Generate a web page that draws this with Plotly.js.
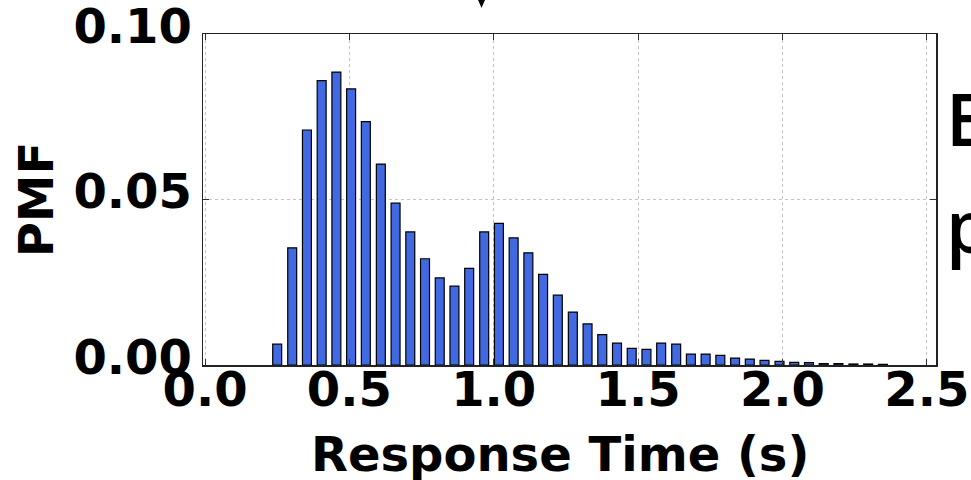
<!DOCTYPE html>
<html>
<head>
<meta charset="utf-8">
<script src="https://cdn.plot.ly/plotly-3.0.1.min.js"></script>
<style>
  html, body { margin: 0; padding: 0; background: #ffffff; overflow: hidden; }
  #chart { width: 971px; height: 480px; }
</style>
</head>
<body>
<div id="chart"></div>
<script>
// Bin centres (s)
const binCenters = [0.250, 0.302, 0.353, 0.404, 0.455, 0.506, 0.557, 0.609, 0.660, 0.711,
                    0.762, 0.813, 0.864, 0.915, 0.967, 1.018, 1.069, 1.120, 1.171, 1.222,
                    1.274, 1.325, 1.376, 1.427, 1.478, 1.529, 1.580, 1.632, 1.683, 1.734,
                    1.785, 1.836, 1.887, 1.938, 1.990, 2.041, 2.092, 2.143, 2.194, 2.246,
                    2.297, 2.348];
// PMF values per bin
const pmfValues = [0.0063, 0.0354, 0.0710, 0.0859, 0.0885, 0.0834, 0.0735, 0.0607, 0.0489, 0.0402,
                   0.0321, 0.0263, 0.0238, 0.0292, 0.0402, 0.0428, 0.0384, 0.0339, 0.0274, 0.0211,
                   0.0160, 0.0124, 0.0092, 0.0066, 0.0050, 0.0047, 0.0066, 0.0063, 0.0033, 0.0033,
                   0.0029, 0.0021, 0.0018, 0.0014, 0.0011, 0.0008, 0.0007, 0.0004, 0.0004, 0.0003,
                   0.0003, 0.0002];
const xTickVals = [0.0, 0.5, 1.0, 1.5, 2.0, 2.5];
const xTickText = ["0.0", "0.5", "1.0", "1.5", "2.0", "2.5"];
const yTickVals = [0.00, 0.05, 0.10];
const yTickText = ["0.00", "0.05", "0.10"];
const xLabel = "Response Time (s)";
const yLabel = "PMF";
const sideLines = ["E", "p"];

const boldFont = {family: "DejaVu Sans", size: 48, color: "#000000", weight: "bold"};

const trace = {
  type: "bar",
  x: binCenters,
  y: pmfValues,
  width: 0.031,
  marker: {color: "#4169E1", line: {color: "#000000", width: 1.2}},
  hoverinfo: "skip"
};

const axisCommon = {
  showline: true,
  linecolor: "#222222",
  linewidth: 1.5,
  mirror: "ticks",
  ticks: "inside",
  ticklen: 6,
  tickwidth: 1,
  tickcolor: "#333333",
  showgrid: true,
  gridcolor: "#c4c4c4",
  griddash: "dot",
  gridwidth: 1,
  zeroline: false,
  tickfont: boldFont,
  ticklabeloverflow: "allow"
};

const layout = {
  width: 971,
  height: 480,
  margin: {l: 203, r: 35, t: 34, b: 115, pad: 0},
  paper_bgcolor: "#ffffff",
  plot_bgcolor: "#ffffff",
  showlegend: false,
  bargap: 0,
  xaxis: Object.assign({}, axisCommon, {
    range: [-0.007, 2.532],
    tickmode: "array",
    tickvals: xTickVals,
    ticktext: xTickText,
    ticklabelstandoff: -18,
    title: {text: ""}
  }),
  yaxis: Object.assign({}, axisCommon, {
    range: [0, 0.10],
    tickmode: "array",
    tickvals: yTickVals,
    ticktext: yTickText,
    ticklabelshift: -8,
    title: {text: yLabel, font: boldFont, standoff: 4}
  }),
  shapes: [
    {type: "path", xref: "paper", yref: "paper",
     path: "M 0.3752 1.103 L 0.3848 1.103 L 0.3800 1.0785 Z",
     fillcolor: "#000000", line: {width: 0}}
  ],
  annotations: [
    {xref: "paper", yref: "paper", x: 0.487, y: -0.268, xanchor: "center", yanchor: "middle",
     text: xLabel, showarrow: false, font: boldFont},
    {xref: "paper", yref: "paper", x: 1.0115, y: 0.745, xanchor: "left", yanchor: "middle",
     text: sideLines[0], showarrow: false,
     font: {family: "Open Sans", size: 72, color: "#000000", weight: 600}},
    {xref: "paper", yref: "paper", x: 1.0115, y: 0.422, xanchor: "left", yanchor: "middle",
     text: sideLines[1], showarrow: false,
     font: {family: "Open Sans", size: 72, color: "#000000", weight: 600}}
  ]
};

Plotly.newPlot("chart", [trace], layout, {staticPlot: true, displayModeBar: false});
</script>
</body>
</html>
